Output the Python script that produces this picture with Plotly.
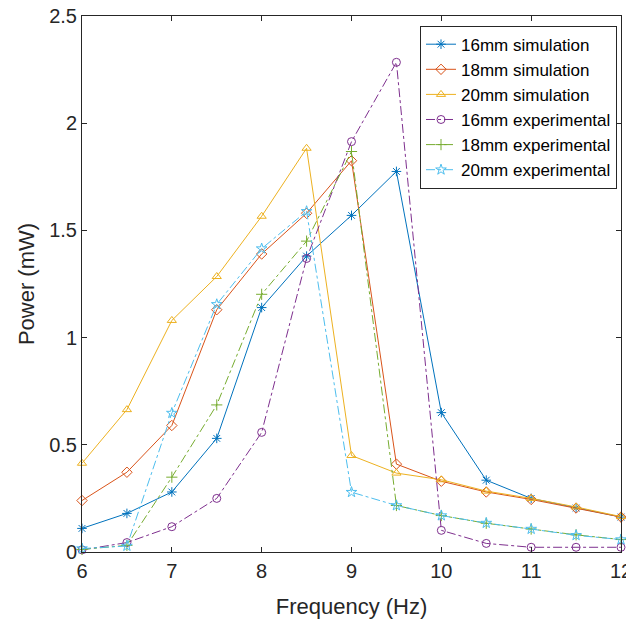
import plotly.graph_objects as go

freq = [6, 6.5, 7, 7.5, 8, 8.5, 9, 9.5, 10, 10.5, 11, 11.5, 12]

sim16 = [0.11, 0.18, 0.28, 0.53, 1.14, 1.38, 1.57, 1.775, 0.65, 0.335, 0.25, 0.205, 0.163]
sim18 = [0.24, 0.372, 0.59, 1.13, 1.39, 1.58, 1.825, 0.41, 0.33, 0.28, 0.245, 0.205, 0.163]
sim20 = [0.414, 0.664, 1.08, 1.285, 1.566, 1.883, 0.45, 0.368, 0.337, 0.284, 0.25, 0.21, 0.165]
exp16 = [0.01, 0.044, 0.118, 0.25, 0.558, 1.369, 1.914, 2.284, 0.101, 0.04, 0.022, 0.022, 0.022]
exp18 = [0.012, 0.031, 0.349, 0.686, 1.202, 1.45, 1.868, 0.217, 0.17, 0.134, 0.107, 0.08, 0.058]
exp20 = [0.016, 0.028, 0.648, 1.155, 1.415, 1.589, 0.279, 0.217, 0.17, 0.135, 0.107, 0.078, 0.058]

names = ["16mm simulation", "18mm simulation", "20mm simulation",
         "16mm experimental", "18mm experimental", "20mm experimental"]
series = [sim16, sim18, sim20, exp16, exp18, exp20]
colors = ["#0072BD", "#D95319", "#EDB120", "#7E2F8E", "#77AC30", "#4DBEEE"]
symbols = ["asterisk-open", "diamond-open", "triangle-up-open",
           "circle-open", "cross-thin-open", "star-open"]
dashes = ["solid", "solid", "solid", "dashdot", "dashdot", "dashdot"]

fig = go.Figure()
for n, s, c, m, d in zip(names, series, colors, symbols, dashes):
    fig.add_trace(go.Scatter(
        x=freq, y=s, name=n, mode="lines+markers",
        line=dict(color=c, width=1, dash=d),
        marker=dict(symbol=m, size=8, color=c, line=dict(color=c, width=1)),
        cliponaxis=False,
    ))

axis_common = dict(
    showline=True, linecolor="#262626", linewidth=1, mirror="allticks",
    ticks="inside", ticklen=5, tickcolor="#262626", showgrid=False, zeroline=False,
    automargin=False, ticklabeloverflow="allow",
    tickfont=dict(family="Liberation Sans, Arial", size=20, color="#262626"),
)
fig.update_layout(
    width=626, height=618,
    margin=dict(l=74, r=13, t=8, b=74),
    plot_bgcolor="white", paper_bgcolor="white",
    font=dict(family="Liberation Sans, Arial", color="#262626"),
    xaxis=dict(range=[6, 12], tickvals=[6, 7, 8, 9, 10, 11, 12],
               ticklabelstandoff=1,
               title=dict(text="Frequency (Hz)", font=dict(size=22), standoff=17), **axis_common),
    yaxis=dict(range=[0, 2.5], tickvals=[0, 0.5, 1, 1.5, 2, 2.5],
               ticktext=["0", "0.5", "1", "1.5", "2", "2.5"],
               title=dict(text="Power (mW)", font=dict(size=22), standoff=8), **axis_common),
    legend=dict(x=0.9926, y=0.982, xanchor="right", yanchor="top",
                bgcolor="white", bordercolor="#262626", borderwidth=1,
                font=dict(family="Liberation Sans, Arial", size=17, color="#000"),
                tracegroupgap=0),
)
fig.write_html("out.html")
